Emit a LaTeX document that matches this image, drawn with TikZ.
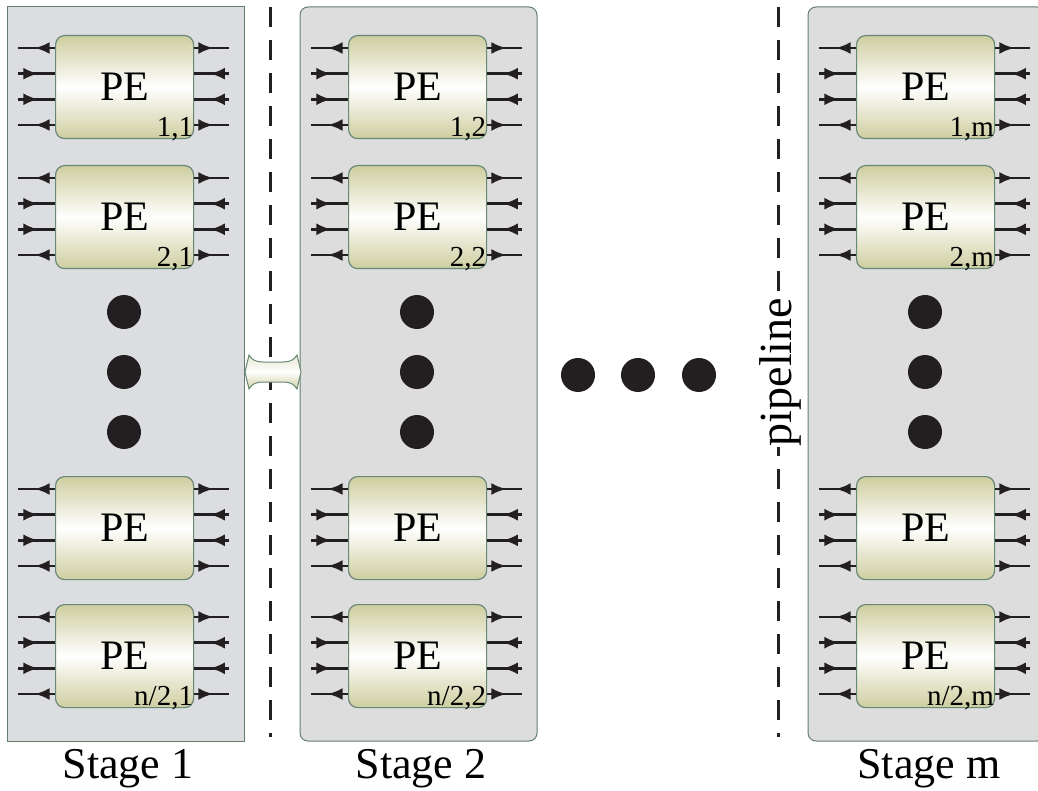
\documentclass[tikz,border=0pt]{standalone}
\usepackage{fontspec}
\setmainfont{Liberation Serif}
\usetikzlibrary{arrows.meta,decorations.markings}

\definecolor{stagegray}{RGB}{220,221,224}
\definecolor{stagegrayb}{RGB}{221,221,221}
\definecolor{stageedge}{RGB}{100,126,110}
\definecolor{pekhaki}{RGB}{206,206,160}
\definecolor{peedge}{RGB}{104,136,118}
\definecolor{inkblack}{RGB}{35,31,32}

\tikzset{
  stagebox/.style={fill=stagegray, draw=stageedge, line width=1pt},
  stagesharp/.style={sharp corners},
  stageround/.style={rounded corners=8pt, fill=stagegrayb},
  stagelabel/.style={anchor=base, inner sep=0pt, font=\fontsize{44}{44}\selectfont},
  pebox/.style={draw=peedge, line width=1.2pt, rounded corners=9pt,
    top color=pekhaki, bottom color=pekhaki, middle color=white,
    minimum width=138pt, minimum height=103pt, inner sep=0pt,
    anchor=north west, font=\fontsize{42}{42}\selectfont},
  pesub/.style={anchor=base east, inner sep=0pt, font=\fontsize{29}{29}\selectfont},
  wire/.style={draw=inkblack, line width=2.8pt, postaction={decorate},
    decoration={markings, mark=at position 0.55 with {\arrow{Latex[length=15pt,width=12pt]}}}},
  bigdot/.style={fill=inkblack},
  pipe/.style={draw=inkblack, line width=3pt, dash pattern=on 20pt off 13pt},
  linkshape/.style={draw=peedge, line width=1pt, top color=pekhaki!50,
    bottom color=pekhaki, middle color=white},
}

\begin{document}
\begin{tikzpicture}[x=1pt,y=-1pt]
  \useasboundingbox (0,0) rectangle (1038,791);

  % one column per pipeline stage
  \foreach \s/\x/\lab/\corner in {1/7/1/stagesharp, 2/300/2/stageround, 3/808/m/stageround}{
    \draw[stagebox,\corner] (\x,7) rectangle (\x+237,741);
    \node[stagelabel] (stage\s) at (\x+121,778) {Stage \lab};
    % processing elements of the column
    \foreach \r/\y in {1/35, 2/165, 3/476, 4/604}{
      \node[pebox] (pe\s\r) at (\x+48,\y) {PE};
      \foreach \k/\off in {1/13, 2/38.7, 3/64.3, 4/90}{
        \coordinate (l\s\r\k) at (\x+11,\y+\off);
        \coordinate (r\s\r\k) at (\x+222,\y+\off);
      }
      % outer wires leave the PE, inner ones enter it
      \foreach \k in {1,4}{
        \draw[wire] (pe\s\r.west |- l\s\r\k) -- (l\s\r\k);
        \draw[wire] (pe\s\r.east |- r\s\r\k) -- (r\s\r\k);
      }
      \foreach \k in {2,3}{
        \draw[wire] (l\s\r\k) -- (pe\s\r.west |- l\s\r\k);
        \draw[wire] (r\s\r\k) -- (pe\s\r.east |- r\s\r\k);
      }
    }
    \foreach \r/\idx in {1/1, 2/2, 4/{n/2}}
      \node[pesub] at ([xshift=-1pt,yshift=3pt]pe\s\r.south east) {\idx,\lab};
    % vertical ellipsis
    \foreach \y in {312,372,432}
      \fill[bigdot] (\x+117,\y) circle (17pt);
  }

  % stage boundaries
  \draw[pipe] (270,7) -- (270,737);
  \draw[pipe] (778,7) -- (778,737);
  \node[rotate=90, fill=white, inner sep=1pt, font=\fontsize{46}{46}\selectfont] (pipetag) at (780,372) {pipeline};

  % horizontal ellipsis
  \foreach \x in {578,638,699}
    \fill[bigdot] (\x,375) circle (17pt);

  % link between stage 1 and stage 2
  \draw[linkshape] (245,372) -- (249,355) .. controls (252,360) and (256,362) .. (263,362)
    -- (283,362) .. controls (290,362) and (294,360) .. (297,355) -- (301,372)
    -- (297,389) .. controls (294,384) and (290,382) .. (283,382)
    -- (263,382) .. controls (256,382) and (252,384) .. (249,389) -- cycle;
\end{tikzpicture}
\end{document}
